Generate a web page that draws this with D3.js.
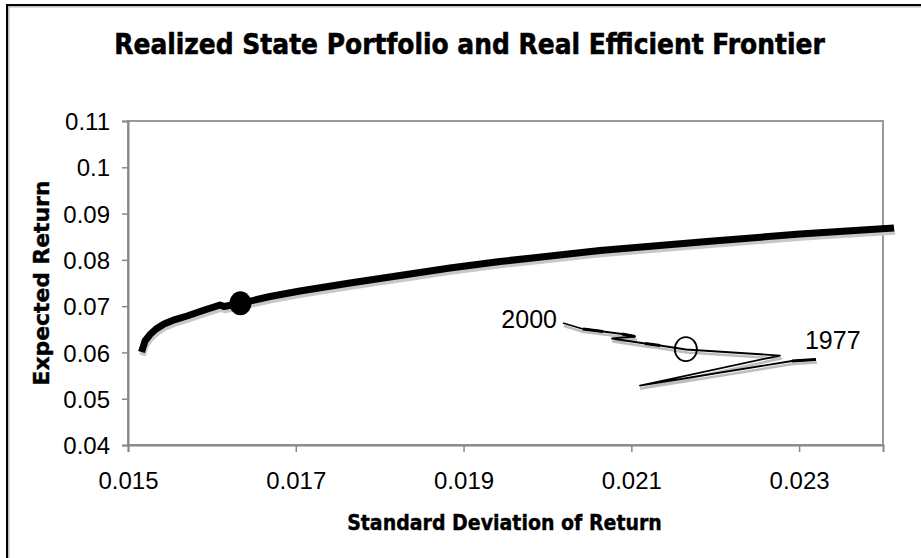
<!DOCTYPE html>
<html>
<head>
<meta charset="utf-8">
<script src="https://cdn.jsdelivr.net/npm/d3@7"></script>
<style>
  html, body { margin: 0; padding: 0; background: #fff; }
  svg { display: block; }
</style>
</head>
<body>
<svg id="chart" width="921" height="558"></svg>
<script>
// ---- data ----
const xTicks = [0.015, 0.017, 0.019, 0.021, 0.023];
const yTicks = [0.04, 0.05, 0.06, 0.07, 0.08, 0.09, 0.1, 0.11];
const xTickLabels = ["0.015", "0.017", "0.019", "0.021", "0.023"];
const yTickLabels = ["0.04", "0.05", "0.06", "0.07", "0.08", "0.09", "0.1", "0.11"];

// Real efficient frontier
const frontierSD  = [0.015161, 0.015203, 0.015262, 0.015334, 0.015429, 0.015560, 0.015703, 0.015894, 0.016097, 0.016144, 0.016341, 0.016693, 0.017050, 0.017646, 0.018242, 0.018838, 0.019434, 0.020626, 0.021973, 0.023010, 0.024131];
const frontierRet = [0.06009, 0.06247, 0.06387, 0.06506, 0.06614, 0.06711, 0.06787, 0.06906, 0.07024, 0.06992, 0.07061, 0.07208, 0.07327, 0.07500, 0.07662, 0.07824, 0.07964, 0.08202, 0.08407, 0.08558, 0.08688];

// Realized state portfolio path (from 2000 back to 1977)
const stateSD  = [0.020185, 0.020424, 0.020662, 0.020889, 0.021044, 0.020769, 0.020924, 0.021163, 0.021342, 0.021652, 0.022772, 0.021103, 0.022915, 0.023201];
const stateRet = [0.06636, 0.06506, 0.06452, 0.06398, 0.06344, 0.06301, 0.06258, 0.06193, 0.06150, 0.06063, 0.05933, 0.05285, 0.05815, 0.05847];
const pathEndLabels = ["2000", "1977"];

// Highlighted points
const frontierPoint = [0.01634, 0.0706];   // filled dot on frontier
const realizedMean  = [0.02165, 0.0607];   // open circle on state path

const chartTitle = "Realized State Portfolio and Real Efficient Frontier";
const xTitle = "Standard Deviation of Return";
const yTitle = "Expected Return";

// styling: path segments drawn heavier (dash-marker look)
const heavySegments = [1, 3, 7, 12];

// ---- layout ----
const svg = d3.select("#chart");
const plot = { left: 128, right: 883, top: 121, bottom: 445 };

const x = d3.scaleLinear().domain([0.015, 0.024]).range([plot.left, plot.right]);
const y = d3.scaleLinear().domain([0.04, 0.11]).range([plot.bottom, plot.top]);

// outer border (extends beyond the frame on right/bottom)
svg.append("rect").attr("x", 8.5).attr("y", 6.5).attr("width", 1000).attr("height", 1000)
  .attr("fill", "none").attr("stroke", "#bbb").attr("stroke-width", 2);
svg.append("rect").attr("x", 7).attr("y", 5).attr("width", 1000).attr("height", 1000)
  .attr("fill", "none").attr("stroke", "#000").attr("stroke-width", 2);

// plot area frame
svg.append("rect")
  .attr("x", plot.left).attr("y", plot.top)
  .attr("width", plot.right - plot.left).attr("height", plot.bottom - plot.top)
  .attr("fill", "none").attr("stroke", "#9a9a9a").attr("stroke-width", 2);

// axes
const tickFont = "'Liberation Sans', Arial, sans-serif";
const yAxis = d3.axisLeft(y).tickValues(yTicks).tickSize(6).tickPadding(12)
  .tickFormat((d, i) => yTickLabels[i]);
const gy = svg.append("g").attr("transform", `translate(${plot.left},0)`).call(yAxis);
gy.select(".domain").attr("stroke", "#888").attr("stroke-width", 2);
gy.selectAll(".tick line").attr("stroke", "#888").attr("stroke-width", 1.5);
gy.selectAll(".tick text").attr("font-family", tickFont).attr("font-size", 24)
  .attr("fill", "#000").attr("dy", "0.36em");

const xAxis = d3.axisBottom(x).tickValues(xTicks).tickSize(7).tickPadding(20)
  .tickFormat((d, i) => xTickLabels[i]);
const gx = svg.append("g").attr("transform", `translate(0,${plot.bottom})`).call(xAxis);
gx.select(".domain").attr("stroke", "#888").attr("stroke-width", 2);
gx.selectAll(".tick line").attr("stroke", "#888").attr("stroke-width", 1.5);
gx.selectAll(".tick text").attr("font-family", tickFont).attr("font-size", 24)
  .attr("fill", "#000").attr("dy", "0.71em");

// titles: bold text, horizontally scaled to the reference width
const boldFont = "'DejaVu Sans', Verdana, sans-serif";
function fittedText(cx, cy, rotate, size, width, strokeW, txt) {
  const g = svg.append("g").attr("transform", `translate(${cx},${cy}) rotate(${rotate})`);
  const t = g.append("text").attr("text-anchor", "middle")
    .attr("font-family", boldFont).attr("font-weight", "bold").attr("font-size", size)
    .attr("stroke", "#000").attr("stroke-width", strokeW).text(txt);
  const w = t.node().getComputedTextLength();
  t.attr("transform", `scale(${width / w},1)`);
  return t;
}
fittedText(469.5, 54, 0, 28.5, 711, 0.6, chartTitle);
fittedText(504.5, 530, 0, 21, 315, 0.4, xTitle);
fittedText(49, 283, -90, 21, 205, 0.4, yTitle);

// lines
const frontier = frontierSD.map((s, i) => [s, frontierRet[i]]);
const statePath = stateSD.map((s, i) => [s, stateRet[i]]);
const line = d3.line().x(d => x(d[0])).y(d => y(d[1]));

// shadows
svg.append("path").datum(frontier).attr("d", line)
  .attr("transform", "translate(1,3.5)")
  .attr("fill", "none").attr("stroke", "#c8c8c8").attr("stroke-width", 6.5)
  .attr("stroke-linejoin", "round");
svg.append("path").datum(statePath).attr("d", line)
  .attr("transform", "translate(1,3)")
  .attr("fill", "none").attr("stroke", "#bdbdbd").attr("stroke-width", 2.5)
  .attr("stroke-linejoin", "round");

// main lines
svg.append("path").datum(frontier).attr("d", line)
  .attr("fill", "none").attr("stroke", "#000").attr("stroke-width", 7)
  .attr("stroke-linejoin", "round");
svg.append("path").datum(statePath).attr("d", line)
  .attr("fill", "none").attr("stroke", "#000").attr("stroke-width", 1.8)
  .attr("stroke-linejoin", "round");

// heavier dash segments along the path
heavySegments.forEach(i => {
  svg.append("path").datum([statePath[i], statePath[i + 1]]).attr("d", line)
    .attr("fill", "none").attr("stroke", "#000").attr("stroke-width", 3.2)
    .attr("stroke-linecap", "butt");
});

// markers
svg.append("ellipse")
  .attr("cx", x(frontierPoint[0])).attr("cy", y(frontierPoint[1]))
  .attr("rx", 11).attr("ry", 12).attr("fill", "#000");
svg.append("ellipse")
  .attr("cx", x(realizedMean[0])).attr("cy", y(realizedMean[1]))
  .attr("rx", 11).attr("ry", 12).attr("fill", "none")
  .attr("stroke", "#000").attr("stroke-width", 1.8);

// end labels
const labelFont = "'Liberation Sans', Arial, sans-serif";
const first = statePath[0], last = statePath[statePath.length - 1];
svg.append("text").attr("x", x(first[0]) - 6).attr("y", y(first[1]) + 5.5)
  .attr("text-anchor", "end").attr("font-family", labelFont).attr("font-size", 25)
  .text(pathEndLabels[0]);
svg.append("text").attr("x", x(last[0]) - 11).attr("y", y(last[1]) - 10.5)
  .attr("text-anchor", "start").attr("font-family", labelFont).attr("font-size", 25)
  .text(pathEndLabels[1]);
</script>
</body>
</html>
